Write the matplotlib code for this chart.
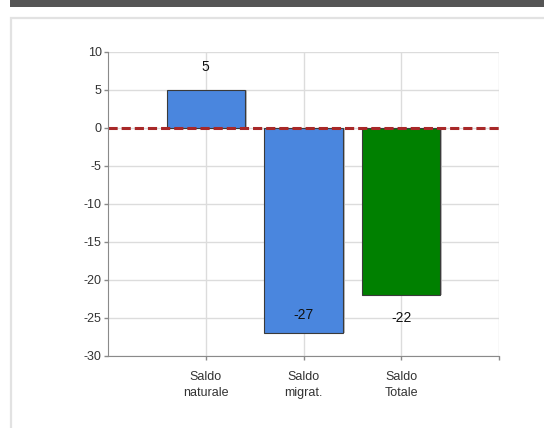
import numpy as np
import matplotlib
matplotlib.use('Agg')
import matplotlib.pyplot as plt
from matplotlib.patches import Rectangle

plt.rcParams['font.family'] = ['Liberation Sans', 'DejaVu Sans']
plt.rcParams['axes.unicode_minus'] = False

# data
categories = ['Saldo\nnaturale', 'Saldo\nmigrat.', 'Saldo\nTotale']
values = [5, -27, -22]
bar_colors = ['#4a86de', '#4a86de', '#008000']
y_ticks = [10, 5, 0, -5, -10, -15, -20, -25, -30]

W, H = 544, 428
fig = plt.figure(figsize=(W / 100, H / 100), dpi=100)

# dark strip at the top and the light panel frame
fig.patches.append(Rectangle((10 / W, 1 - 7 / H), 1, 7 / H, transform=fig.transFigure,
                             facecolor='#555555', edgecolor='none', zorder=-2))
fig.patches.append(Rectangle((11 / W, -0.1), 1, 1.1 - 18 / H, transform=fig.transFigure,
                             facecolor='white', edgecolor='#e2e2e2', linewidth=1.6, zorder=-2))

left, right, top, bottom = 108, 499, 52, 356
ax = fig.add_axes([left / W, 1 - bottom / H, (right - left) / W, (bottom - top) / H])
ax.set_facecolor('none')

x = np.arange(1, len(values) + 1)
# soft shadow then the bars
ax.bar(x + 0.02, values, width=0.8, color='#b8b8b8', edgecolor='none', zorder=2)
ax.bar(x, values, width=0.8, color=bar_colors, edgecolor='#3a3a3a', linewidth=0.8, zorder=3)

ax.axhline(0, color='#a82828', linestyle=(0, (3, 1.3)), linewidth=2.2, zorder=4)

ax.set_xlim(0, 4)
ax.set_ylim(-30, 10)
ax.set_yticks(y_ticks)
ax.set_xticks([1, 2, 3, 4])
ax.set_xticklabels(categories + [''])
ax.grid(True, color='#dcdcdc', linewidth=1, zorder=0)

for s in ['top', 'right']:
    ax.spines[s].set_visible(False)
for s in ['left', 'bottom']:
    ax.spines[s].set_color('#8a8a8a')
    ax.spines[s].set_zorder(5)

ax.tick_params(axis='both', colors='#8a8a8a', labelcolor='#333333', labelsize=9,
               length=3, width=1, pad=1.5)
ax.tick_params(axis='x', pad=8)
for lbl in ax.get_xticklabels():
    lbl.set_linespacing(1.4)

ymin = ax.get_ylim()[0]
for xi, v in zip(x, values):
    y = v + 3 if v >= 0 else v - 3
    if y < ymin + 1:
        y = v + 2.4
    ax.text(xi, y, f'{v}', ha='center', va='center', fontsize=10, color='#111111', zorder=6)

fig.savefig('out.png', dpi=100)
